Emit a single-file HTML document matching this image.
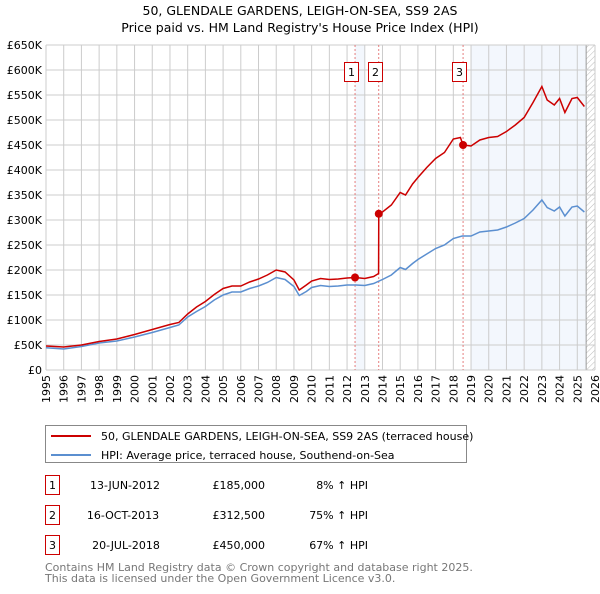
<!DOCTYPE html>
<html><head><meta charset="utf-8"><style>
body{margin:0;background:#fff;font-family:"DejaVu Sans","Liberation Sans",sans-serif;}
svg text{font-family:"DejaVu Sans","Liberation Sans",sans-serif;}
</style></head><body>
<svg id="chart" width="600" height="590" viewBox="0 0 600 590" xmlns="http://www.w3.org/2000/svg">
<defs><pattern id="hatch" width="4" height="4" patternUnits="userSpaceOnUse" patternTransform="rotate(45)"><line x1="0" y1="0" x2="0" y2="4" stroke="#bbb" stroke-width="1"/></pattern></defs>
<text x="300" y="15" font-size="12.5" text-anchor="middle" fill="#000">50, GLENDALE GARDENS, LEIGH-ON-SEA, SS9 2AS</text>
<text x="300" y="32" font-size="12.5" text-anchor="middle" fill="#000">Price paid vs. HM Land Registry's House Price Index (HPI)</text>
<g id="plot"></g>
<g>
<rect x="45.5" y="425.5" width="421" height="37" fill="#fff" stroke="#888"/>
<line x1="51" y1="436" x2="91" y2="436" stroke="#cc0000" stroke-width="2"/>
<text x="101" y="440" font-size="11" fill="#000">50, GLENDALE GARDENS, LEIGH-ON-SEA, SS9 2AS (terraced house)</text>
<line x1="51" y1="455" x2="91" y2="455" stroke="#5b8fd0" stroke-width="2"/>
<text x="101" y="459" font-size="11" fill="#000">HPI: Average price, terraced house, Southend-on-Sea</text>
</g>
<g font-size="11" fill="#000">
<rect x="45.5" y="475.5" width="14" height="19" fill="#fff" stroke="#cc0000"/><text x="52.5" y="489" text-anchor="middle">1</text>
<text x="125" y="489" text-anchor="middle">13-JUN-2012</text><text x="265" y="489" text-anchor="end">£185,000</text><text x="368" y="489" text-anchor="end">8% ↑ HPI</text>
<rect x="45.5" y="505.5" width="14" height="19" fill="#fff" stroke="#cc0000"/><text x="52.5" y="519" text-anchor="middle">2</text>
<text x="123" y="519" text-anchor="middle">16-OCT-2013</text><text x="265" y="519" text-anchor="end">£312,500</text><text x="368" y="519" text-anchor="end">75% ↑ HPI</text>
<rect x="45.5" y="535.5" width="14" height="19" fill="#fff" stroke="#cc0000"/><text x="52.5" y="549" text-anchor="middle">3</text>
<text x="126" y="549" text-anchor="middle">20-JUL-2018</text><text x="265" y="549" text-anchor="end">£450,000</text><text x="368" y="549" text-anchor="end">67% ↑ HPI</text>
</g>
<text x="45" y="571" font-size="11" fill="#777">Contains HM Land Registry data © Crown copyright and database right 2025.</text>
<text x="45" y="582" font-size="11" fill="#777">This data is licensed under the Open Government Licence v3.0.</text>
</svg>
<script>
const yTicks=[0,50,100,150,200,250,300,350,400,450,500,550,600,650];
const yTickLabels=["£0","£50K","£100K","£150K","£200K","£250K","£300K","£350K","£400K","£450K","£500K","£550K","£600K","£650K"];
const xYears=[1995,1996,1997,1998,1999,2000,2001,2002,2003,2004,2005,2006,2007,2008,2009,2010,2011,2012,2013,2014,2015,2016,2017,2018,2019,2020,2021,2022,2023,2024,2025,2026];
const hpiT=[1995,1996,1997,1998,1999,2000,2001,2002,2002.5,2003,2003.5,2004,2004.5,2005,2005.5,2006,2006.5,2007,2007.5,2008,2008.5,2009,2009.3,2009.7,2010,2010.5,2011,2011.5,2012,2012.5,2013,2013.5,2014,2014.5,2015,2015.3,2015.7,2016,2016.5,2017,2017.5,2018,2018.5,2019,2019.5,2020,2020.5,2021,2021.5,2022,2022.5,2023,2023.3,2023.7,2024,2024.3,2024.7,2025,2025.4];
const hpiV=[44.5,42,47,54,58,66,75,85,90,106,117,127,140,150,156,156,163,168,175,185,181,167,149,157,165,169,167,168,170,170,169,173,181,190,205,201,213,221,232,243,250,263,268,268,276,278,280,286,294,303,320,340,325,318,326,308,326,328,316];
const redT=[1995,1996,1997,1998,1999,2000,2001,2002,2002.5,2003,2003.5,2004,2004.5,2005,2005.5,2006,2006.5,2007,2007.5,2008,2008.5,2009,2009.3,2009.7,2010,2010.5,2011,2011.5,2012,2012.45,2013,2013.5,2013.78,2013.79,2014,2014.5,2015,2015.3,2015.7,2016,2016.5,2017,2017.5,2018,2018.4,2018.55,2019,2019.5,2020,2020.5,2021,2021.5,2022,2022.5,2023,2023.3,2023.7,2024,2024.3,2024.7,2025,2025.4];
const redV=[48,46,50,57,62,71,81,91,95,112,126,137,151,163,168,168,176,182,190,200,196,180,160,170,178,183,181,182,184,185,183,187,193,312.5,316,330,355,350,372,385,405,423,435,462,465,450,448,460,465,467,477,490,505,535,567,540,530,543,515,543,545,527];
const saleT=[2012.45,2013.79,2018.55];
const saleV=[185,312.5,450];
const saleLabels=["1","2","3"];
const shadeStart=[2012.45,2019];
const shadeEnd=[2013,2025.5];
const X0=46,X1=595,Y0=370,Y1=45;
const xs=t=>X0+(t-1995)/(2026-1995)*(X1-X0);
const ys=v=>Y0-v/650*(Y0-Y1);
const NS="http://www.w3.org/2000/svg";
const g=document.getElementById('plot');
function mk(tag,attrs,parent){const e=document.createElementNS(NS,tag);for(const k in attrs)e.setAttribute(k,attrs[k]);(parent||g).appendChild(e);return e;}
mk('rect',{x:X0,y:Y1,width:X1-X0,height:Y0-Y1,fill:'#fff'});
shadeStart.forEach((s,i)=>{const r=mk('rect',{x:xs(s),y:Y1,width:xs(shadeEnd[i])-xs(s),height:Y0-Y1,fill:'#eef3fc',opacity:0.7});

});
const h=mk('rect',{x:xs(2025.5),y:Y1,width:X1-xs(2025.5),height:Y0-Y1,fill:'url(#hatch)'});


mk('line',{x1:xs(2025.5),y1:Y1,x2:xs(2025.5),y2:Y0,stroke:'#999'});
yTicks.forEach((v,i)=>{const l=mk('line',{x1:X0,y1:ys(v),x2:X1,y2:ys(v),stroke:'#ccc'});


const t=mk('text',{x:X0-4,y:ys(v)+4,'font-size':11,'text-anchor':'end',fill:'#000'});t.textContent=yTickLabels[i];

});
xYears.forEach(yr=>{const l=mk('line',{x1:xs(yr),y1:Y1,x2:xs(yr),y2:Y0,stroke:'#ccc'});


const t=mk('text',{x:0,y:0,'font-size':11,'text-anchor':'end',fill:'#000',transform:`translate(${xs(yr)+4},${Y0+5}) rotate(-90)`});t.textContent=yr;

});
saleT.forEach((s,i)=>{const l=mk('line',{x1:xs(s),y1:Y1,x2:xs(s),y2:Y0,stroke:'#e06060','stroke-dasharray':'2,2','stroke-width':0.8});


const bx=Math.round(xs(s))-10.5;
const r=mk('rect',{x:bx,y:62.5,width:14,height:19,fill:'#fff',stroke:'#cc0000'});


const t=mk('text',{x:bx+7,y:76,'font-size':11,'text-anchor':'middle',fill:'#000'});t.textContent=saleLabels[i];

});
const hp=mk('polyline',{points:hpiT.map((t,i)=>xs(t)+','+ys(hpiV[i])).join(' '),fill:'none',stroke:'#5b8fd0','stroke-width':1.5});


const rp=mk('polyline',{points:redT.map((t,i)=>xs(t)+','+ys(redV[i])).join(' '),fill:'none',stroke:'#cc0000','stroke-width':1.5});


saleT.forEach((s,i)=>{const c=mk('circle',{cx:xs(s),cy:ys(saleV[i]),r:4,fill:'#cc0000'});

});
</script>
</body></html>
